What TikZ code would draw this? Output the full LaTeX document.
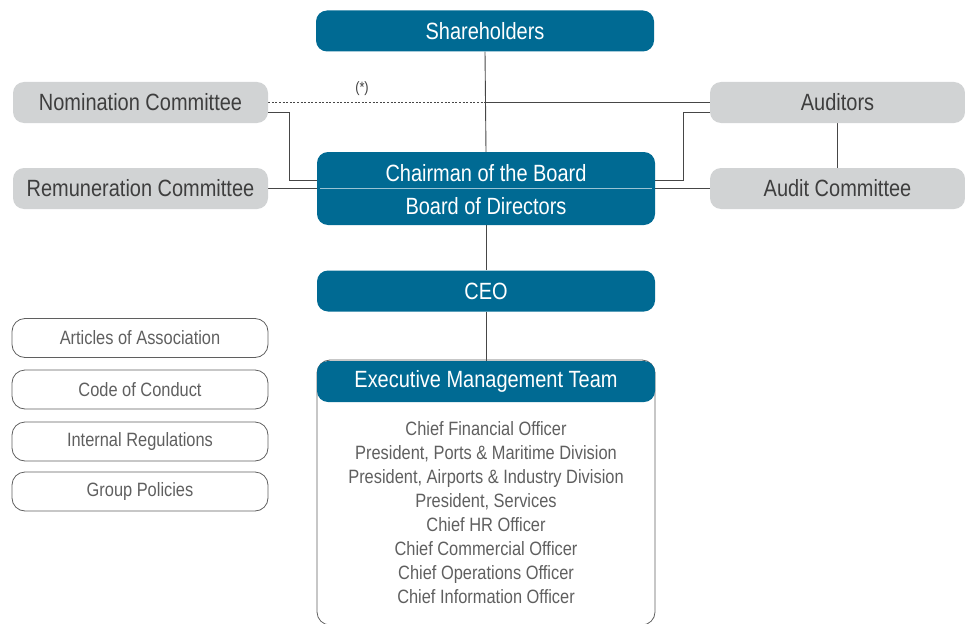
\documentclass[tikz,border=0pt]{standalone}
\usepackage{fontspec}
\setmainfont{Liberation Sans}[FakeStretch=0.85]
\usepackage{tikz}
\usetikzlibrary{calc,positioning,backgrounds}
\definecolor{boardblue}{RGB}{0,106,147}
\definecolor{boxgray}{RGB}{209,211,212}
\definecolor{linegray}{RGB}{70,70,70}
\definecolor{txtgray}{RGB}{62,62,62}
\definecolor{listgray}{RGB}{95,95,95}

\begin{document}
\begin{tikzpicture}[x=1pt,y=-1pt,
    bluebox/.style={fill=boardblue,rounded corners=11pt,minimum width=338pt,minimum height=41pt,text=white,inner sep=0pt,font=\fontsize{23.5}{28}\selectfont},
    greybox/.style={fill=boxgray,rounded corners=11pt,minimum width=255pt,minimum height=41pt,text=txtgray,inner sep=0pt,font=\fontsize{23.5}{28}\selectfont},
    docbox/.style={draw=listgray,line width=0.8pt,rounded corners=13pt,minimum width=256pt,minimum height=39pt,text=listgray,inner sep=0pt,font=\fontsize{19.3}{24}\selectfont},
    link/.style={draw=linegray,line width=0.9pt},
    dotlink/.style={link,dash pattern=on 2pt off 1.6pt}]
    \clip(0,0)rectangle(965,623);
    % top and board
    \node[bluebox](share)at(485,31){Shareholders};
    \node[bluebox,minimum height=73pt](board)at(486,188.5){};
    \node[text=white,font=\fontsize{23.5}{28}\selectfont](chair)at(486,173){Chairman of the Board};
    \node[text=white,font=\fontsize{23.5}{28}\selectfont](bod)at(486,206){Board of Directors};
    \draw[white!60!boardblue,line width=1.2pt]([xshift=3pt]board.west)--([xshift=-3pt]board.east);
    \node[bluebox](ceo)at(486,291){CEO};
    % committees
    \node[greybox](nom)at(140.5,102.5){Nomination Committee};
    \node[greybox](rem)at(140.5,188.5){Remuneration Committee};
    \node[greybox](aud)at(837.5,102.5){Auditors};
    \node[greybox](audc)at(837.5,188.5){Audit Committee};
    % documents
    \node[docbox](art)at(140,338){Articles of Association};
    \node[docbox](code)at(140,389.5){Code of Conduct};
    \node[docbox](reg)at(140,441.5){Internal Regulations};
    \node[docbox](pol)at(140,491.5){Group Policies};
    % management
    \draw[draw=listgray,line width=0.8pt,rounded corners=13pt](317,360)rectangle(655,625);
    \node[bluebox](emt)at(486,381.5){Executive Management Team};
    \node[text=listgray,align=center,font=\fontsize{19.3}{24}\selectfont](team)at(486,512.5)
      {Chief Financial Officer\\President, Ports \& Maritime Division\\President, Airports \& Industry Division\\President, Services\\Chief HR Officer\\Chief Commercial Officer\\Chief Operations Officer\\Chief Information Officer};
    \node[text=txtgray,font=\fontsize{15}{17}\selectfont](star)at(362,89){(*)};
    % connectors
    \begin{scope}[on background layer]
    \coordinate(mid)at(share.south|-nom.east);
    \draw[link](share.south)--(board.north);
    \draw[dotlink](nom.east)--(mid);
    \draw[link](mid)--(aud.west);
    \draw[link]([yshift=-10pt]nom.east)-|(289,180)--([yshift=8.5pt]board.west);
    \draw[link](rem.east)--(board.west);
    \draw[link]([yshift=-10pt]aud.west)-|(683,180)--([yshift=8.5pt]board.east);
    \draw[link](audc.west)--(board.east);
    \draw[link](aud.south)--(audc.north);
    \draw[link](board.south)--(ceo.north);
    \draw[link](ceo.south)--(emt.north);
    \end{scope}
\end{tikzpicture}
\end{document}
